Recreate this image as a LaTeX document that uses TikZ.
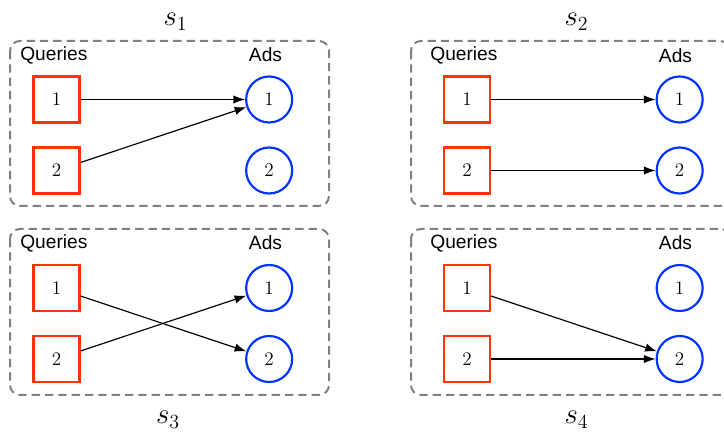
\documentclass[tikz,border=0pt]{standalone}
\usepackage{fontspec}
\usepackage{tikz}
\usetikzlibrary{shapes.geometric, arrows.meta, positioning}
\newfontfamily\labelfont{Liberation Sans}
\definecolor{queryred}{RGB}{255,51,0}
\definecolor{adblue}{RGB}{0,51,255}
\tikzstyle{query} = [rectangle, minimum size=27.6pt, inner sep=0pt, draw=queryred, line width=1.3pt, font=\fontsize{11.5}{13}\selectfont]
\tikzstyle{ad} = [circle, minimum size=27.6pt, inner sep=0pt, draw=adblue, line width=1.3pt, font=\fontsize{11.5}{13}\selectfont]
\tikzstyle{panel} = [draw=gray, line width=1.2pt, dash pattern=on 5pt off 3pt, rounded corners=6pt]
\tikzstyle{side} = [font=\labelfont\fontsize{11.5}{13}\selectfont, inner sep=0pt]
\tikzstyle{state} = [font=\LARGE, inner sep=0pt, anchor=base]
\tikzstyle{arrow} = [line width=0.7pt, -{Latex[length=7pt,width=5pt]}]

\begin{document}
\begin{tikzpicture}[x=0.6pt, y=-0.6pt, node distance=42.6pt]
    \clip (0,0) rectangle (724,432);
    % s1
    \draw [panel] (10,41) rectangle (329,206);
    \node (S1Name) [state] at (175.5,26) {$s_1$};
    \node (S1Queries) [side, anchor=base west] at (20,61) {Queries};
    \node (S1Ads) [side, anchor=base] at (265.5,62) {Ads};
    \node (S1Query1) [query] at (56.5,99.5) {1};
    \node (S1Query2) [query, below of = S1Query1] {2};
    \node (S1Ad1) [ad, right of = S1Query1, xshift = 85pt] {1};
    \node (S1Ad2) [ad, below of = S1Ad1] {2};
    \draw [arrow] (S1Query1) -- (S1Ad1);
    \draw [arrow] (S1Query2) -- (S1Ad1);
    % s2
    \draw [panel] (411,41) rectangle (730,206);
    \node (S2Name) [state] at (576.5,26) {$s_2$};
    \node (S2Queries) [side, anchor=base west] at (430,61) {Queries};
    \node (S2Ads) [side, anchor=base] at (675.5,63) {Ads};
    \node (S2Query1) [query] at (467,99.5) {1};
    \node (S2Query2) [query, below of = S2Query1] {2};
    \node (S2Ad1) [ad, right of = S2Query1, xshift = 85pt] {1};
    \node (S2Ad2) [ad, below of = S2Ad1] {2};
    \draw [arrow] (S2Query1) -- (S2Ad1);
    \draw [arrow] (S2Query2) -- (S2Ad2);
    % s3
    \draw [panel] (10,229) rectangle (329,395);
    \node (S3Name) [state] at (168,424) {$s_3$};
    \node (S3Queries) [side, anchor=base west] at (20,249) {Queries};
    \node (S3Ads) [side, anchor=base] at (265.5,250) {Ads};
    \node (S3Query1) [query] at (56.5,288) {1};
    \node (S3Query2) [query, below of = S3Query1] {2};
    \node (S3Ad1) [ad, right of = S3Query1, xshift = 85pt] {1};
    \node (S3Ad2) [ad, below of = S3Ad1] {2};
    \draw [arrow] (S3Query1) -- (S3Ad2);
    \draw [arrow] (S3Query2) -- (S3Ad1);
    % s4
    \draw [panel] (411,229) rectangle (730,395);
    \node (S4Name) [state] at (576.5,424) {$s_4$};
    \node (S4Queries) [side, anchor=base west] at (430,249) {Queries};
    \node (S4Ads) [side, anchor=base] at (675.5,250) {Ads};
    \node (S4Query1) [query] at (467,288) {1};
    \node (S4Query2) [query, below of = S4Query1] {2};
    \node (S4Ad1) [ad, right of = S4Query1, xshift = 85pt] {1};
    \node (S4Ad2) [ad, below of = S4Ad1] {2};
    \draw [arrow] (S4Query1) -- (S4Ad2);
    \draw [arrow] (S4Query2) -- (S4Ad2);
\end{tikzpicture}
\end{document}
